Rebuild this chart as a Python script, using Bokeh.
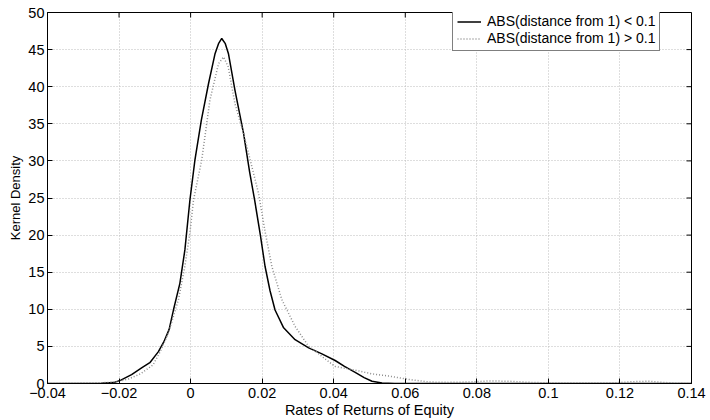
import math
from bokeh.plotting import figure
from bokeh.models import (FixedTicker, CustomJSTickFormatter, Range1d,
                          Legend, LegendItem)
from bokeh.embed import file_html
from bokeh.resources import INLINE

# ---- data ----
x_solid = [-0.04, -0.03, -0.025, -0.0215, -0.0195, -0.0165, -0.0137, -0.0114, -0.009,
           -0.0075, -0.006, -0.0048, -0.003, -0.0016, -0.0002, 0.0012, 0.003, 0.005,
           0.0068, 0.0078, 0.0087, 0.0097, 0.0106, 0.0124, 0.0148, 0.0165, 0.0179,
           0.0195, 0.0208, 0.0222, 0.0236, 0.026, 0.0292, 0.033, 0.0367, 0.0404,
           0.043, 0.046, 0.0485, 0.0507, 0.0535, 0.057, 0.14]
y_solid = [0, 0, 0.03, 0.12, 0.45, 1.2, 2.1, 2.8, 4.3,
           5.6, 7.3, 9.9, 13.5, 18.0, 24.7, 30.1, 35.5, 40.4,
           44.4, 45.8, 46.5, 45.8, 44.4, 39.5, 33.7, 28.5, 24.7,
           20.0, 15.8, 12.5, 9.9, 7.5, 5.9, 4.8, 4.0, 3.1,
           2.3, 1.5, 0.8, 0.3, 0.08, 0, 0]

x_dotted = [-0.04, -0.035, -0.03, -0.025, -0.021, -0.0174, -0.014, -0.0105, -0.0085,
            -0.0062, -0.0034, -0.0016, -0.0002, 0.0008, 0.0031, 0.0054, 0.0078, 0.0092,
            0.0105, 0.0124, 0.0148, 0.0162, 0.019, 0.0208, 0.0227, 0.0255, 0.0292,
            0.033, 0.0345, 0.0376, 0.0404, 0.046, 0.0507, 0.0554, 0.061, 0.0666,
            0.072, 0.078, 0.0834, 0.0889, 0.095, 0.1, 0.11, 0.118, 0.124, 0.128,
            0.132, 0.136, 0.14]
y_dotted = [0, 0.02, 0.06, 0.1, 0.2, 0.6, 1.3, 2.5, 4.3,
            6.8, 11.3, 15.8, 20.3, 24.7, 30.1, 38.2, 43.1, 44.0,
            42.7, 37.7, 33.7, 31.0, 25.6, 20.5, 15.8, 11.3, 7.7,
            5.0, 4.5, 3.3, 2.3, 1.8, 1.3, 1.0, 0.55, 0.2,
            0.15, 0.2, 0.35, 0.3, 0.15, 0.08, 0.05, 0.08, 0.25, 0.3,
            0.15, 0.03, 0]

x_ticks = [-0.04, -0.02, 0, 0.02, 0.04, 0.06, 0.08, 0.1, 0.12, 0.14]
y_ticks = [0, 5, 10, 15, 20, 25, 30, 35, 40, 45, 50]
series_labels = ["ABS(distance from 1) < 0.1", "ABS(distance from 1) > 0.1"]
x_label = "Rates of Returns of Equity"
y_label = "Kernel Density"

FONT = "Liberation Sans"
X_MIN, X_MAX = x_ticks[0], x_ticks[-1]
Y_MIN, Y_MAX = y_ticks[0], y_ticks[-1]

p = figure(width=710, height=420, output_backend="svg", toolbar_location=None,
           x_range=Range1d(X_MIN, X_MAX), y_range=Range1d(Y_MIN, Y_MAX),
           min_border_left=47, min_border_right=19, min_border_top=12,
           min_border_bottom=36, x_axis_label=x_label, y_axis_label=y_label)

p.background_fill_color = "white"
p.border_fill_color = "white"
p.outline_line_color = "black"
p.outline_line_width = 1

fmt = CustomJSTickFormatter(code="""
var s = (Math.round(tick*100)/100).toString();
return s.replace('-', '\\u2212');
""")

for ax in p.xaxis:
    ax.ticker = FixedTicker(ticks=x_ticks)
    ax.formatter = fmt
for ax in p.yaxis:
    ax.ticker = FixedTicker(ticks=y_ticks)

for ax in list(p.xaxis) + list(p.yaxis):
    ax.major_tick_in = 5
    ax.major_tick_out = 0
    ax.minor_tick_in = 0
    ax.minor_tick_out = 0
    ax.axis_line_color = "black"
    ax.major_tick_line_color = "black"
    ax.major_label_text_font = FONT
    ax.major_label_text_font_size = "14.5px"
    ax.major_label_text_color = "black"
    ax.axis_label_text_font = FONT
    ax.axis_label_text_font_style = "normal"
    ax.axis_label_text_color = "black"

p.xaxis.major_label_standoff = 4
p.xaxis.axis_label_standoff = 1
p.xaxis.axis_label_text_font_size = "14.5px"
p.yaxis.major_label_standoff = 3
p.yaxis.axis_label_standoff = 2
p.yaxis.axis_label_text_font_size = "13px"

# inward tick marks on the top and right edges (MATLAB box style)
p.ray(x=x_ticks, y=[Y_MAX] * len(x_ticks), length=5, length_units="screen",
      angle=-math.pi / 2, line_color="black", line_width=1)
p.ray(x=[X_MAX] * len(y_ticks), y=y_ticks, length=5, length_units="screen",
      angle=math.pi, line_color="black", line_width=1)

p.xgrid.ticker = FixedTicker(ticks=x_ticks)
p.ygrid.ticker = FixedTicker(ticks=y_ticks)
for g in (p.xgrid, p.ygrid):
    g.grid_line_color = "#bdbdbd"
    g.grid_line_dash = "1 2"
    g.grid_line_width = 1

r1 = p.line(x_solid, y_solid, line_color="black", line_width=1.5)
r2 = p.line(x_dotted, y_dotted, line_color="#8c8c8c", line_width=1.5, line_dash="1 2")

legend = Legend(items=[LegendItem(label=series_labels[0], renderers=[r1]),
                       LegendItem(label=series_labels[1], renderers=[r2])],
                location=(405, 332), margin=0, padding=4, spacing=1,
                glyph_width=24, glyph_height=15, label_height=15, label_standoff=6,
                label_text_font=FONT, label_text_font_size="14px",
                label_text_color="black",
                border_line_color="black", border_line_width=1,
                background_fill_color="white", background_fill_alpha=1)
p.add_layout(legend)

open("out.html", "w").write(file_html(p, INLINE))
